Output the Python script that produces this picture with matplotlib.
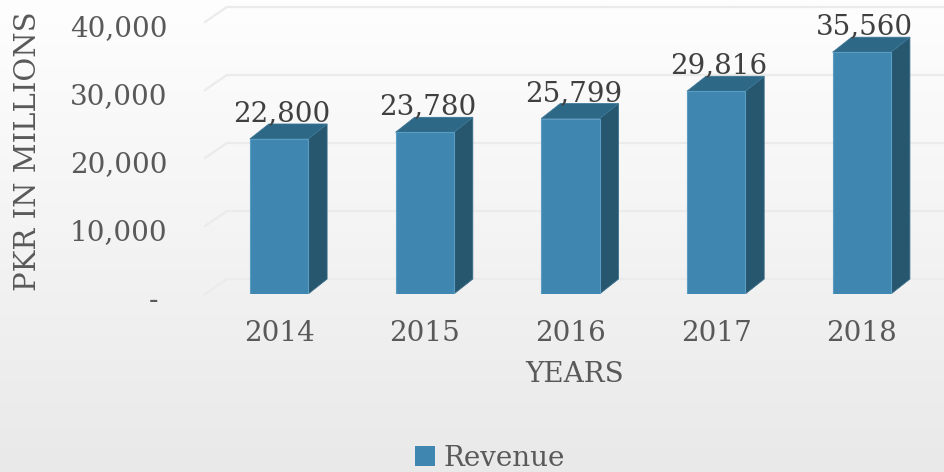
import numpy as np
import matplotlib
matplotlib.use("Agg")
import matplotlib.pyplot as plt
from matplotlib.patches import Polygon, Rectangle, Patch
from matplotlib.transforms import ScaledTranslation

years = ["2014", "2015", "2016", "2017", "2018"]
revenue = [22800, 23780, 25799, 29816, 35560]
revenue_labels = ["22,800", "23,780", "25,799", "29,816", "35,560"]
ytick_values = [0, 10000, 20000, 30000, 40000]
ytick_labels = ["- ", "10,000", "20,000", "30,000", "40,000"]

front_c = "#3f87b0"
side_c = "#27566f"
top_c = "#2e6887"
text_c = "#595959"

plt.rcParams["font.family"] = ["DejaVu Serif"]

fig = plt.figure(figsize=(9.45, 4.72), dpi=100)

# light vertical gradient behind everything
bg = fig.add_axes([0, 0, 1, 1], zorder=-10)
grad = np.linspace(0, 1, 256).reshape(-1, 1)
bg.imshow(grad, aspect="auto", cmap=matplotlib.colors.LinearSegmentedColormap.from_list(
    "bg", ["#fefefe", "#e9e9e9"]), extent=[0, 1, 0, 1], origin="upper")
bg.axis("off")

ax = fig.add_axes([205 / 945, 1 - 294 / 472, 740 / 945, 294 / 472])
ax.patch.set_alpha(0)
ax.set_xlim(-0.508, 4.571)
ax.set_ylim(0, 43235)

w = 0.4      # bar width
dx = 0.13    # depth, category units
dy = 2200    # depth, value units
gdx = 0.15

# back wall gridlines
x0 = ax.get_xlim()[0]
for v in ytick_values:
    ax.plot([x0, x0 + gdx, ax.get_xlim()[1]], [v, v + dy, v + dy],
            color="#ebebeb", lw=1.6, zorder=0, clip_on=False)

for i, v in enumerate(revenue):
    l, r = i - w / 2, i + w / 2
    ax.add_patch(Rectangle((l, 0), w, v, facecolor=front_c,
                           edgecolor="#5b9cc2", lw=0.8, zorder=3))
    ax.add_patch(Polygon([(r, 0), (r + dx, dy), (r + dx, v + dy), (r, v)],
                         closed=True, facecolor=side_c, edgecolor="#3c6f8a",
                         lw=0.6, zorder=2))
    ax.add_patch(Polygon([(l, v), (l + dx, v + dy), (r + dx, v + dy), (r, v)],
                         closed=True, facecolor=top_c, edgecolor="#3c7696",
                         lw=0.6, zorder=2))
    ax.annotate(revenue_labels[i], (i + 0.02, v + dy), xytext=(0, 2),
                textcoords="offset points", ha="center", va="baseline",
                fontsize=20, color="#404040", zorder=5)

ax.set_xticks(range(len(years)))
ax.set_xticklabels(years)
ax.set_yticks(ytick_values)
ax.set_yticklabels(ytick_labels)
ax.tick_params(axis="both", length=0, labelsize=20, labelcolor=text_c)
ax.tick_params(axis="y", pad=27)
ax.tick_params(axis="x", pad=19)
for lab in ax.get_yticklabels():
    lab.set_transform(lab.get_transform() + ScaledTranslation(0, -0.04, fig.dpi_scale_trans))
for s in ax.spines.values():
    s.set_visible(False)

ax.set_xlabel("YEARS", fontsize=20, color=text_c, labelpad=10)
ax.set_ylabel("PKR IN MILLIONS", fontsize=21, color=text_c)
ax.yaxis.set_label_coords(-0.22, 0.485)

fig.legend(handles=[Patch(facecolor=front_c, label="Revenue")],
           loc="center", bbox_to_anchor=(490 / 945, 14 / 472), frameon=False,
           fontsize=20, labelcolor=text_c, handlelength=0.7, handleheight=0.7,
           handletextpad=0.3)

fig.savefig("out.png", dpi=100)
